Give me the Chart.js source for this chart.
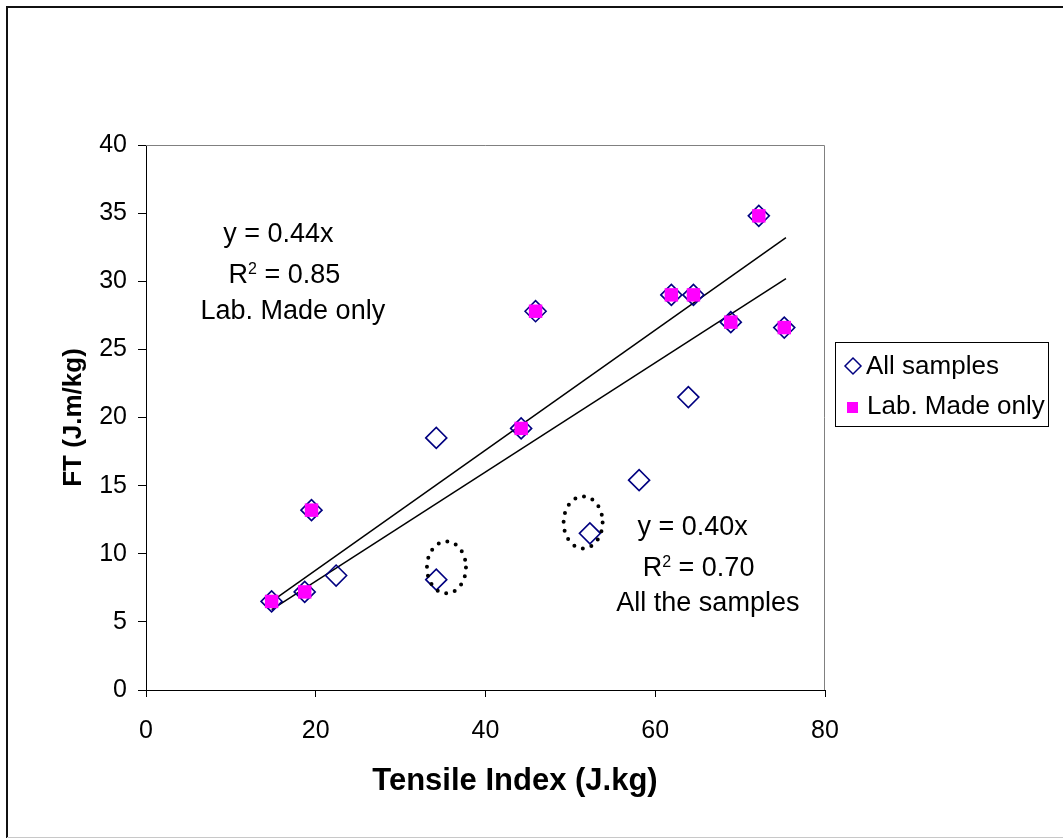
<!DOCTYPE html>
<html lang="en">
<head>
    <meta charset="UTF-8">
    <style>
        html, body {
            margin: 0;
            padding: 0;
            background: #fff;
            overflow: hidden;
        }

        #myChart {
            display: block;
        }
    </style>
    <title>FT vs Tensile Index</title>
</head>
<body>
    <canvas id="myChart" width="1063" height="838"></canvas>
    <script src="https://cdn.jsdelivr.net/npm/chart.js"></script>
    <script>
        // all samples (hollow diamonds)
        const allX = [14.8, 18.7, 19.5, 22.4, 34.2, 34.2, 44.2, 45.9, 52.3, 58.1, 61.9, 63.9, 64.5, 68.9, 72.2, 75.2];
        const allY = [6.5, 7.2, 13.2, 8.4, 18.5, 8.1, 19.2, 27.8, 11.5, 15.4, 29.0, 21.5, 29.0, 27.0, 34.8, 26.6];

        // lab made only (pink squares)
        const labX = [14.8, 18.7, 19.5, 44.2, 45.9, 61.9, 64.5, 68.9, 72.2, 75.2];
        const labY = [6.5, 7.2, 13.2, 19.2, 27.8, 29.0, 29.0, 27.0, 34.8, 26.6];

        // trendline ends
        const fitX = [14.8, 75.4];
        const labFitY = [6.5, 33.2];
        const allFitY = [5.9, 30.2];

        const xTicks = [0, 20, 40, 60, 80];
        const yTicks = [0, 5, 10, 15, 20, 25, 30, 35, 40];

        const seriesNames = ['All samples', 'Lab. Made only'];

        const FONT = '"Liberation Sans", Arial, sans-serif';
        const NAVY = '#000080';
        const PINK = '#ff00ff';

        const pts = (xs, ys) => xs.map((x, i) => ({ x: x, y: ys[i] }));

        // frame, plot border, titles, equations, dotted rings, legend
        const extras = {
            id: 'extras',
            beforeDraw(chart) {
                const ctx = chart.ctx;
                ctx.save();
                ctx.fillStyle = '#fff';
                ctx.fillRect(0, 0, chart.width, chart.height);
                ctx.lineWidth = 2;
                ctx.strokeStyle = '#111';
                ctx.beginPath();
                ctx.moveTo(7, chart.height);
                ctx.lineTo(7, 7);
                ctx.lineTo(chart.width, 7);
                ctx.stroke();
                ctx.strokeStyle = '#c8c8c8';
                ctx.lineWidth = 1;
                ctx.beginPath();
                ctx.moveTo(7, 837.5);
                ctx.lineTo(chart.width, 837.5);
                ctx.stroke();
                ctx.restore();
            },
            beforeDatasetsDraw(chart) {
                const ctx = chart.ctx;
                const a = chart.chartArea;
                ctx.save();
                ctx.strokeStyle = '#808080';
                ctx.lineWidth = 1;
                ctx.beginPath();
                ctx.moveTo(a.left, a.top + 0.5);
                ctx.lineTo(a.right - 0.5, a.top + 0.5);
                ctx.lineTo(a.right - 0.5, a.bottom);
                ctx.stroke();
                ctx.restore();
            },
            afterDatasetsDraw(chart) {
                const ctx = chart.ctx;
                const xs = chart.scales.x;
                const ys = chart.scales.y;
                ctx.save();

                // dotted rings around the two outliers
                ctx.strokeStyle = '#000';
                ctx.lineWidth = 4;
                ctx.lineCap = 'round';
                ctx.setLineDash([0, 9]);
                [{ x: 35.4, y: 9.0 }, { x: 51.5, y: 12.3 }].forEach(r => {
                    ctx.beginPath();
                    ctx.ellipse(xs.getPixelForValue(r.x), ys.getPixelForValue(r.y), 19.5, 26, 0, 0, Math.PI * 2);
                    ctx.stroke();
                });
                ctx.setLineDash([]);

                // equations
                ctx.fillStyle = '#000';
                ctx.textBaseline = 'alphabetic';
                const line = (txt, x, y) => {
                    ctx.font = '27px ' + FONT;
                    ctx.textAlign = 'center';
                    ctx.fillText(txt, xs.getPixelForValue(x), ys.getPixelForValue(y));
                };
                const r2 = (val, x, y) => {
                    const cx = xs.getPixelForValue(x);
                    const by = ys.getPixelForValue(y);
                    ctx.textAlign = 'left';
                    ctx.font = '27px ' + FONT;
                    const wR = ctx.measureText('R').width;
                    const wRest = ctx.measureText(' = ' + val).width;
                    ctx.font = '16px ' + FONT;
                    const w2 = ctx.measureText('2').width;
                    let px = cx - (wR + w2 + wRest) / 2;
                    ctx.font = '27px ' + FONT;
                    ctx.fillText('R', px, by);
                    ctx.font = '16px ' + FONT;
                    ctx.fillText('2', px + wR, by - 9);
                    ctx.font = '27px ' + FONT;
                    ctx.fillText(' = ' + val, px + wR + w2, by);
                };
                line('y = 0.44x', 15.6, 32.9);
                r2('0.85', 16.3, 29.9);
                line('Lab. Made only', 17.3, 27.2);
                line('y = 0.40x', 64.4, 11.4);
                r2('0.70', 65.1, 8.4);
                line('All the samples', 66.2, 5.8);

                ctx.restore();
            },
            afterDraw(chart) {
                const ctx = chart.ctx;
                const a = chart.chartArea;
                ctx.save();
                ctx.fillStyle = '#000';

                // axis titles
                ctx.font = 'bold 31px ' + FONT;
                ctx.textAlign = 'center';
                ctx.textBaseline = 'alphabetic';
                ctx.fillText('Tensile Index (J.kg)', 515, 790);

                ctx.translate(81, (a.top + a.bottom) / 2);
                ctx.rotate(-Math.PI / 2);
                ctx.font = 'bold 26px ' + FONT;
                ctx.fillText('FT (J.m/kg)', 0, 0);
                ctx.setTransform(1, 0, 0, 1, 0, 0);

                // legend
                ctx.strokeStyle = '#000';
                ctx.lineWidth = 1;
                ctx.strokeRect(835.5, 342.5, 213, 84);

                ctx.strokeStyle = NAVY;
                ctx.lineWidth = 1.5;
                ctx.beginPath();
                ctx.moveTo(853, 358);
                ctx.lineTo(861, 366);
                ctx.lineTo(853, 374);
                ctx.lineTo(845, 366);
                ctx.closePath();
                ctx.stroke();

                ctx.fillStyle = PINK;
                ctx.fillRect(847, 402, 11, 11);

                ctx.fillStyle = '#000';
                ctx.font = '26px ' + FONT;
                ctx.textAlign = 'left';
                ctx.fillText(seriesNames[0], 866, 374);
                ctx.fillText(seriesNames[1], 867, 414);
                ctx.restore();
            }
        };

        const ctx = document.getElementById('myChart');

        new Chart(ctx, {
            type: 'scatter',
            data: {
                datasets: [
                    {
                        label: seriesNames[0],
                        data: pts(allX, allY),
                        pointStyle: 'rectRot',
                        pointRadius: 10.5,
                        pointBorderWidth: 1.6,
                        borderColor: NAVY,
                        backgroundColor: 'rgba(0,0,0,0)',
                        order: 1
                    },
                    {
                        label: seriesNames[1],
                        data: pts(labX, labY),
                        pointStyle: 'rect',
                        pointRadius: 9.5,
                        pointBorderWidth: 0,
                        borderColor: PINK,
                        backgroundColor: PINK,
                        order: 0
                    },
                    {
                        label: 'fit lab',
                        data: pts(fitX, labFitY),
                        showLine: true,
                        pointRadius: 0,
                        borderColor: '#000',
                        borderWidth: 1.5,
                        order: 2
                    },
                    {
                        label: 'fit all',
                        data: pts(fitX, allFitY),
                        showLine: true,
                        pointRadius: 0,
                        borderColor: '#000',
                        borderWidth: 1.5,
                        order: 2
                    }
                ]
            },
            options: {
                responsive: false,
                devicePixelRatio: 1,
                animation: false,
                layout: {
                    padding: { top: 145, right: 238, left: 0, bottom: 0 }
                },
                plugins: {
                    legend: { display: false },
                    tooltip: { enabled: false }
                },
                scales: {
                    x: {
                        type: 'linear',
                        min: xTicks[0],
                        max: xTicks[xTicks.length - 1],
                        afterBuildTicks: (s) => { s.ticks = xTicks.map(v => ({ value: v })); },
                        afterFit: (s) => { s.height = 148; },
                        grid: {
                            drawOnChartArea: false,
                            drawTicks: true,
                            tickLength: 7,
                            color: '#000'
                        },
                        border: { color: '#000', width: 1 },
                        ticks: {
                            color: '#000',
                            padding: 19,
                            maxRotation: 0,
                            font: { family: FONT, size: 25 }
                        }
                    },
                    y: {
                        type: 'linear',
                        min: yTicks[0],
                        max: yTicks[yTicks.length - 1],
                        afterBuildTicks: (s) => { s.ticks = yTicks.map(v => ({ value: v })); },
                        afterFit: (s) => { s.width = 146; },
                        grid: {
                            drawOnChartArea: false,
                            drawTicks: true,
                            tickLength: 8,
                            color: '#000'
                        },
                        border: { color: '#000', width: 1 },
                        ticks: {
                            color: '#000',
                            padding: 11,
                            font: { family: FONT, size: 25 }
                        }
                    }
                }
            },
            plugins: [extras]
        });
    </script>
</body>
</html>
